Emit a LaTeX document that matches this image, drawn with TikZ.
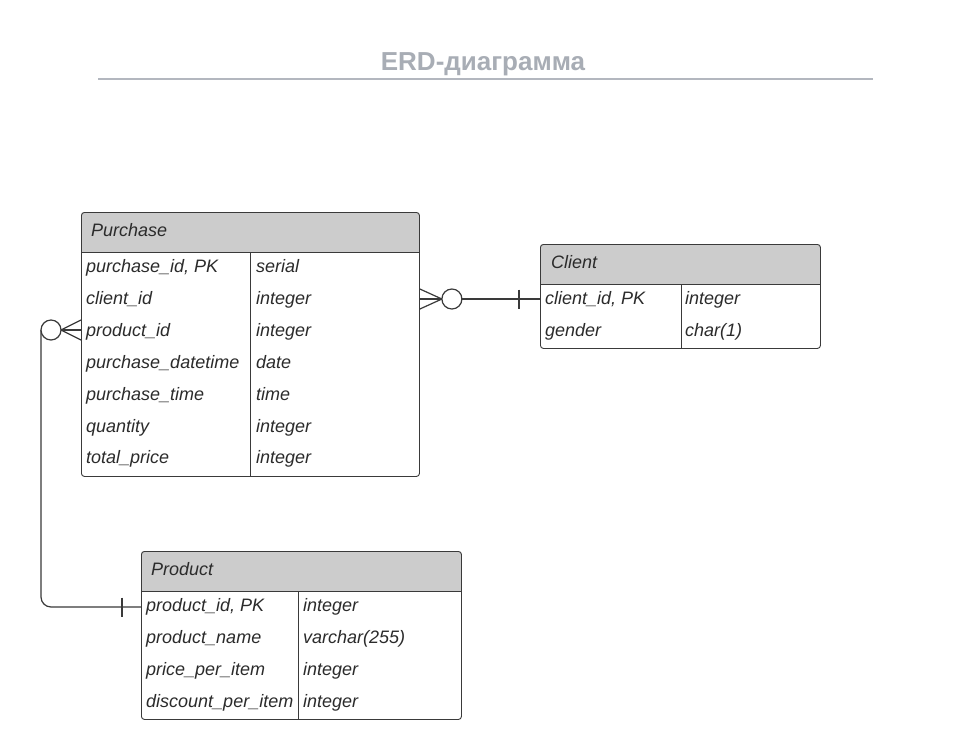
\documentclass[tikz,border=0pt]{standalone}
\usepackage{fontspec}
\setmainfont{Liberation Sans}
\definecolor{hdr}{HTML}{CCCCCC}
\definecolor{edge}{HTML}{3A3A3A}
\definecolor{titlegray}{HTML}{A8ADB5}
\definecolor{rulegray}{HTML}{B3B7BF}
\definecolor{txt}{HTML}{2B2B2B}
\begin{document}
\begin{tikzpicture}[x=1pt,y=-1pt,
  cell/.style={anchor=base west, inner sep=0pt, font=\fontsize{18}{21}\selectfont\itshape, text=txt},
  box/.style={draw=edge, line width=0.9pt, rounded corners=3pt, inner sep=0pt, anchor=north west},
  sep/.style={draw=edge, line width=0.9pt},
  conn/.style={draw=edge, line width=1.2pt}]
\useasboundingbox[fill=white] (0,0) rectangle (969,732);

% title
\node[font=\fontsize{26}{30}\selectfont\bfseries, text=titlegray, inner sep=0pt] (title) at (483,64) {ERD-диаграмма};
\draw[rulegray, line width=2pt] (98,79) -- (873,79);

% ---------- Purchase ----------
\begin{scope}
  \clip (81,212) rectangle (419,252);
  \fill[hdr, rounded corners=3pt] (81,212) rectangle (419,280);
\end{scope}
\node[box, minimum width=338pt, minimum height=264pt] (purchase) at (81,212) {};
\draw[sep] (81,252) -- (419,252);
\draw[sep] (250,252) -- (250,476);
\node[cell] (purchase-title) at (91,236) {Purchase};
\foreach \a/\b [count=\i] in {{purchase\_id, PK}/serial, client\_id/integer, product\_id/integer,
  purchase\_datetime/date, purchase\_time/time, quantity/integer, total\_price/integer}
{
  \node[cell] (pa-\i) at (86,{241+31.85*\i}) {\a};
  \node[cell] (pb-\i) at (256,{241+31.85*\i}) {\b};
}

% ---------- Client ----------
\begin{scope}
  \clip (540,244) rectangle (820,284);
  \fill[hdr, rounded corners=3pt] (540,244) rectangle (820,310);
\end{scope}
\node[box, minimum width=280pt, minimum height=104pt] (client) at (540,244) {};
\draw[sep] (540,284) -- (820,284);
\draw[sep] (681,284) -- (681,348);
\node[cell] (client-title) at (551,268) {Client};
\foreach \a/\b [count=\i] in {{client\_id, PK}/integer, gender/char(1)}
{
  \node[cell] (ca-\i) at (545,{272+32*\i}) {\a};
  \node[cell] (cb-\i) at (685,{272+32*\i}) {\b};
}

% ---------- Product ----------
\begin{scope}
  \clip (141,551) rectangle (461,591);
  \fill[hdr, rounded corners=3pt] (141,551) rectangle (461,620);
\end{scope}
\node[box, minimum width=320pt, minimum height=168pt] (product) at (141,551) {};
\draw[sep] (141,591) -- (461,591);
\draw[sep] (298,591) -- (298,719);
\node[cell] (product-title) at (151,575) {Product};
\foreach \a/\b [count=\i] in {{product\_id, PK}/integer, product\_name/varchar(255),
  price\_per\_item/integer, discount\_per\_item/integer}
{
  \node[cell] (ra-\i) at (146,{579+32*\i}) {\a};
  \node[cell] (rb-\i) at (303,{579+32*\i}) {\b};
}

% ---------- connectors ----------
\path (purchase.north east) ++(0,87) coordinate (pC);
\path (client.north west) ++(0,55) coordinate (cC);
\path (purchase.north west) ++(0,118) coordinate (pP);
\path (product.north west) ++(0,56) coordinate (rP);

% Purchase (many, optional) -- Client (one)
\draw[conn] (pC) -- (cC);
\draw[conn] (pC) ++(0,-10) -- ++(22,10) -- ++(-22,10);
\draw[conn, fill=white] (pC) ++(32,0) circle (10pt);
\draw[conn] (cC) ++(-21,-9.5) -- ++(0,19);

% Purchase (many, optional) -- Product (one)
\draw[conn] (pP) -- (41,330);
\draw[conn, rounded corners=10pt] (41,330) -- (41,607) -- (rP);
\draw[conn] (pP) ++(0,-10) -- ++(-20,10) -- ++(20,10);
\draw[conn, fill=white] (pP) ++(-30,0) circle (10pt);
\draw[conn] (rP) ++(-19,-9.5) -- ++(0,19);
\end{tikzpicture}
\end{document}
